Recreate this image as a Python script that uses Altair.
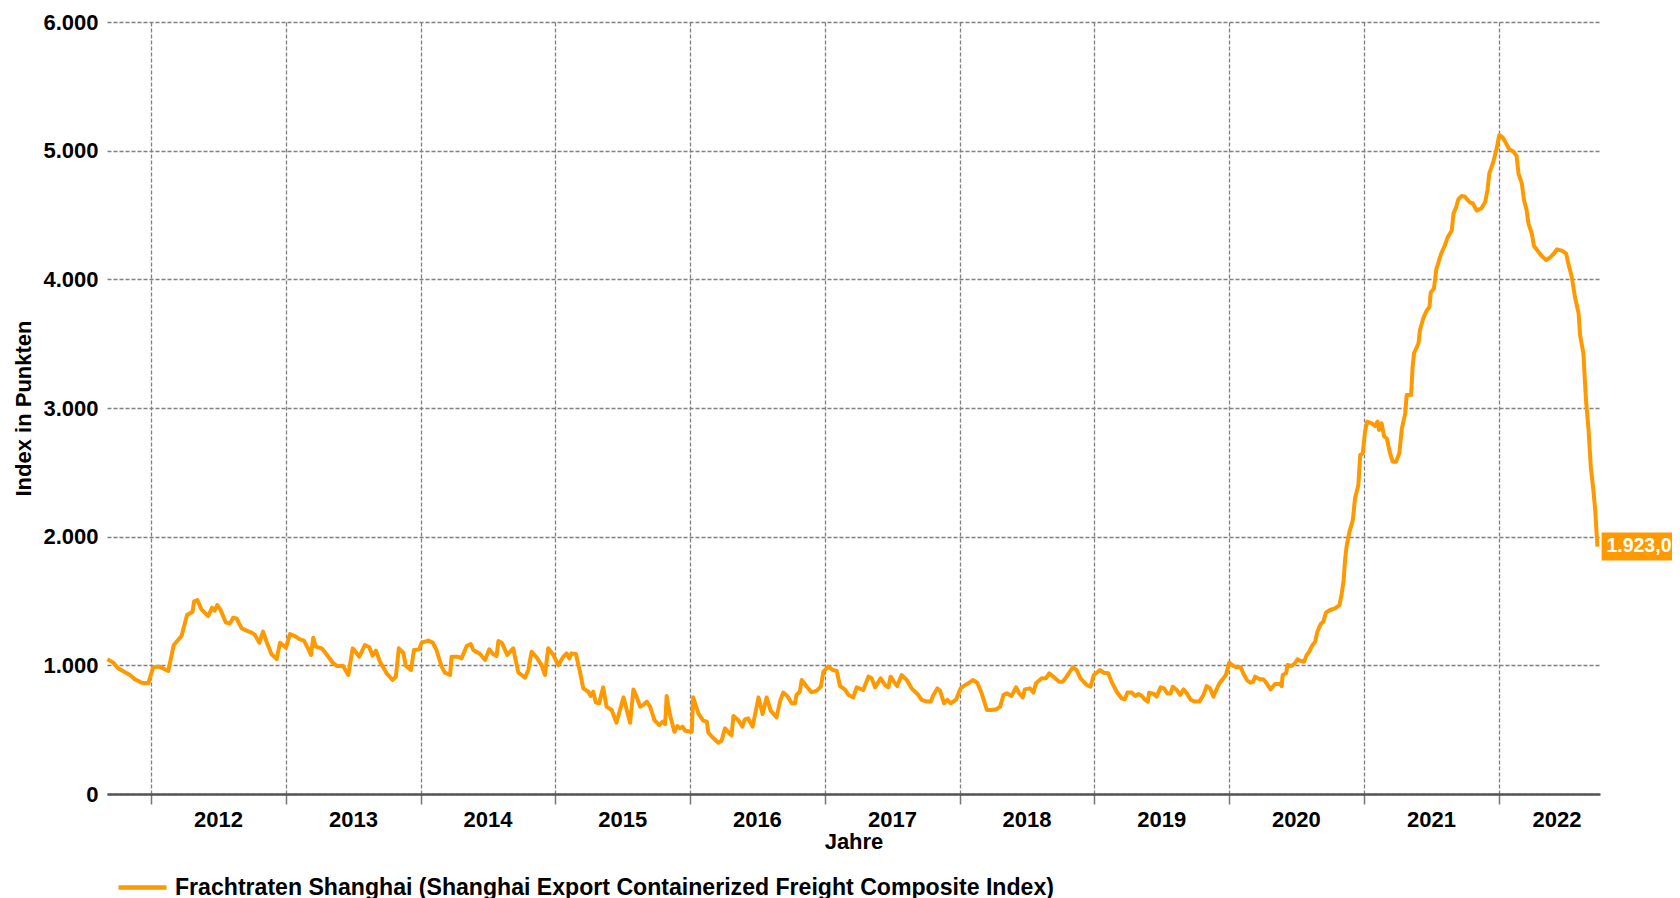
import altair as alt
import pandas as pd

# ---- data ----
# x positions: days after 2012-01-01 ; y: index points
day_offsets = [
    -118, -102, -89, -57, -43, -25, -7, 6, 24, 47, 62, 83, 98, 113, 117, 126, 137, 155, 166, 173,
    180, 189, 203, 214, 223, 232, 246, 259, 273, 282, 294, 304, 315, 327, 341, 350, 366, 377, 390, 404,
    415, 427, 434, 440, 447, 463, 476, 494, 505, 521, 535, 547, 565, 580, 592, 601, 610, 621, 639, 655,
    664, 672, 684, 691, 705, 713, 727, 734, 752, 764, 774, 788, 797, 811, 815, 833, 842, 856, 867, 874,
    892, 906, 917, 928, 937, 942, 951, 966, 982, 996, 1005, 1014, 1023, 1032, 1046, 1059,
    1068, 1077, 1091, 1104, 1118, 1127, 1134, 1140, 1152, 1163, 1172, 1186, 1192, 1199, 1206, 1215,
    1226, 1235, 1249, 1262, 1281, 1299, 1308, 1317, 1326, 1335, 1344, 1353, 1365, 1378, 1387, 1394,
    1398, 1407, 1419, 1427, 1434, 1441, 1448, 1466, 1470, 1484, 1497, 1507, 1511, 1525, 1538, 1547,
    1556, 1568, 1574, 1579, 1592, 1603, 1610, 1619, 1631, 1647, 1658, 1669, 1680, 1696, 1705, 1714,
    1725, 1737, 1746, 1750, 1759, 1764, 1778, 1791, 1805, 1816, 1823, 1836, 1848, 1859, 1868, 1881,
    1891, 1904, 1913, 1931, 1945, 1954, 1963, 1978, 1990, 1999, 2005, 2014, 2023, 2035, 2049, 2062,
    2080, 2089, 2103, 2114, 2121, 2132, 2139, 2150, 2159, 2168, 2182, 2195, 2207, 2216, 2228, 2240,
    2252, 2266, 2279, 2291,
    2302, 2311, 2320, 2333, 2345, 2354, 2363, 2369, 2383, 2392, 2399, 2415, 2426, 2435, 2446, 2462,
    2472, 2482, 2499, 2509, 2520, 2537, 2547, 2556, 2573, 2582, 2595, 2604, 2618, 2631, 2640, 2647,
    2659, 2668, 2677, 2686, 2695, 2702, 2706, 2719, 2726, 2737, 2746, 2755, 2764, 2770, 2781, 2790,
    2799, 2808, 2819, 2830, 2842, 2853, 2862, 2871, 2880, 2896, 2905, 2914, 2923, 2934, 2943, 2954,
    2961, 2972, 2981, 2988, 2993, 3006, 3016, 3023, 3035, 3047, 3061, 3065, 3068, 3077, 3081, 3092,
    3101, 3108, 3115, 3126, 3133, 3140, 3147, 3156, 3162, 3171, 3178, 3185, 3196, 3210, 3222, 3228,
    3233,
    3237, 3241, 3249, 3258, 3264, 3273, 3278, 3285, 3291, 3297, 3309, 3318, 3325, 3329, 3336, 3343,
    3350, 3359, 3366, 3375, 3384, 3391, 3400, 3404, 3416, 3420, 3424, 3436, 3440, 3449, 3458, 3466,
    3469, 3478, 3484, 3490, 3497, 3508, 3515, 3526, 3531, 3538, 3544, 3553, 3562, 3569, 3576, 3583,
    3594, 3607, 3617, 3623, 3628, 3639, 3648, 3655, 3664, 3671, 3682, 3693, 3702, 3707, 3716, 3722,
    3729, 3734, 3743, 3749, 3761, 3770, 3782, 3793, 3802, 3811, 3824, 3836, 3842, 3851, 3860, 3870,
    3874, 3883, 3890, 3897, 3903, 3910, 3915, 3921,
]
values = [
    1047, 1021, 977, 925, 891, 865, 860, 985, 990, 956, 1158, 1228, 1391, 1417, 1495, 1508, 1435, 1383, 1448, 1425,
    1469, 1430, 1332, 1326, 1370, 1365, 1288, 1270, 1254, 1236, 1176, 1262, 1171, 1086, 1049, 1176, 1137, 1243, 1228, 1202,
    1192, 1124, 1081, 1215, 1145, 1132, 1086, 1016, 995, 995, 925, 1132, 1067, 1158, 1140, 1075, 1114, 1028, 938, 886,
    912, 1132, 1098, 995, 964, 1119, 1124, 1176, 1192, 1176, 1119, 990, 943, 925, 1067, 1067, 1054, 1150, 1166, 1119,
    1088, 1041, 1124, 1086, 1073, 1189, 1176, 1081, 1132, 943, 925, 904, 964, 1106, 1060, 1002,
    925, 1132, 1081, 1002, 1067, 1093, 1054, 1093, 1088, 951, 821, 795, 762, 795, 710, 705,
    829, 679, 653, 554, 751, 554, 813, 751, 679, 692, 718, 679, 575, 536, 562, 544,
    762, 614, 484, 528, 510, 523, 492, 484, 751, 627, 570, 562, 476, 433, 399, 414,
    510, 471, 458, 606, 575, 523, 580, 588, 523, 751, 622, 751, 648, 596, 718, 788,
    762, 705, 705, 770, 795, 886, 834, 790, 803, 834, 951, 990, 964, 956, 839, 813,
    770, 751, 829, 808, 912, 899, 829, 899, 847, 829, 912, 873, 839, 925, 886, 821,
    770, 731, 718, 718, 770, 821, 803, 705, 731, 705, 731, 821, 847, 860, 886, 865,
    782, 653, 653, 658,
    679, 770, 782, 762, 829, 782, 751, 813, 821, 788, 860, 899, 899, 938, 912, 873,
    873, 912, 985, 964, 899, 847, 834, 925, 964, 943, 938, 873, 795, 744, 736, 788,
    788, 762, 777, 762, 731, 718, 788, 777, 757, 829, 821, 782, 782, 834, 808, 770,
    813, 782, 731, 718, 718, 770, 839, 821, 757, 860, 891, 925, 1021, 995, 985, 985,
    938, 881, 865, 873, 912, 891, 891, 865, 813, 855, 855, 839, 925, 938, 1002, 995,
    1016, 1047, 1036, 1028, 1081, 1106, 1150, 1184, 1262, 1321, 1339, 1409, 1430, 1443, 1469, 1560,
    1658,
    1819, 1922, 2039, 2130, 2298, 2402, 2635, 2648, 2816, 2894, 2881, 2860, 2894, 2829, 2881, 2777,
    2764, 2648, 2583, 2583, 2648, 2842, 2958, 3101, 3101, 3321, 3425, 3503, 3606, 3697, 3756, 3787,
    3896, 3930, 4073, 4130, 4197, 4267, 4326, 4378, 4513, 4559, 4622, 4648, 4643, 4617, 4596, 4591,
    4534, 4552, 4604, 4694, 4824, 4914, 5018, 5122, 5104, 5070, 5010, 4993, 4959, 4824, 4746, 4617,
    4539, 4435, 4358, 4259, 4215, 4181, 4150, 4171, 4197, 4233, 4223, 4202, 4124, 4026, 3865, 3736,
    3567, 3425, 3062, 2829, 2544, 2363, 2207, 1923,
]
series_name = "Frachtraten Shanghai (Shanghai Export Containerized Freight Composite Index)"
grid_years = [2012, 2013, 2014, 2015, 2016, 2017, 2018, 2019, 2020, 2021, 2022]
y_ticks = [0, 1000, 2000, 3000, 4000, 5000, 6000]

# ---- table ----
base = pd.Timestamp("2012-01-01")
df = pd.DataFrame({
    "date": [base + pd.Timedelta(days=d) for d in day_offsets],
    "value": values,
    "series": series_name,
})
last = df.iloc[[-1]].copy()
last["label"] = [f"{v:,.1f}".replace(",", "X").replace(".", ",").replace("X", ".") for v in last["value"]]

FONT = "Liberation Sans"
ORANGE = "#FF9900"

x_scale = alt.Scale(domain=[alt.DateTime(year=2011, month=9, date=4),
                            alt.DateTime(year=2022, month=10, date=3)])
y_scale = alt.Scale(domain=[0, 6000], nice=False, zero=True)

x_enc = alt.X(
    "date:T", scale=x_scale, title="Jahre",
    axis=alt.Axis(
        values=[alt.DateTime(year=y, month=1, date=1) for y in grid_years],
        labelExpr="timeFormat(datum.value, '%Y')",
        labelOffset={"condition": {"test": "year(datum.value) == 2022", "value": 58}, "value": 67},
        labelFlush=False, labelPadding=5,
        tickSize=10, tickColor="#777777", tickWidth=1.5,
        domainColor="#555555", domainWidth=2.5,
        titlePadding=1,
    ),
)
y_enc = alt.Y(
    "value:Q", scale=y_scale, title="Index in Punkten",
    axis=alt.Axis(
        values=y_ticks,
        labelExpr="replace(format(datum.value, ',.0f'), ',', '.')",
        domain=False, ticks=False, labelPadding=9, titlePadding=7,
    ),
)

line = alt.Chart(df).mark_line(strokeWidth=4, strokeJoin="round").encode(
    x=x_enc,
    y=y_enc,
    color=alt.Color(
        "series:N",
        scale=alt.Scale(range=[ORANGE]),
        legend=alt.Legend(
            orient="none", legendX=9, legendY=839, title=None,
            symbolType="stroke", symbolSize=2304, symbolStrokeWidth=4.5,
            labelFont=FONT, labelFontSize=23.1, labelFontWeight="bold",
            labelColor="black", labelLimit=0, labelOffset=6, padding=0,
        ),
    ),
)

box = alt.Chart(last).mark_point(
    shape="M0.3,-1H8V1H0.3Z", filled=True, size=784, opacity=1,
    color=ORANGE, strokeWidth=0,
).encode(x="date:T", y="value:Q")

label = alt.Chart(last).mark_text(
    align="left", baseline="middle", dx=9, dy=-1,
    font=FONT, fontSize=19.5, fontWeight="bold", color="white",
).encode(x="date:T", y="value:Q", text="label:N")

chart = alt.layer(line, box, label).properties(
    width=1493, height=772,
    padding={"left": 99, "top": 14, "right": 72, "bottom": 104},
    autosize=alt.AutoSizeParams(type="none"),
).configure_view(stroke=None).configure_axis(
    labelFont=FONT, labelFontSize=22, labelFontWeight="bold", labelColor="black",
    titleFont=FONT, titleFontSize=22, titleFontWeight="bold", titleColor="black",
    gridColor="#808080", gridDash=[4, 2], gridWidth=1.3,
)

chart.save("out.html", embed_options={"renderer": "svg", "actions": False})
